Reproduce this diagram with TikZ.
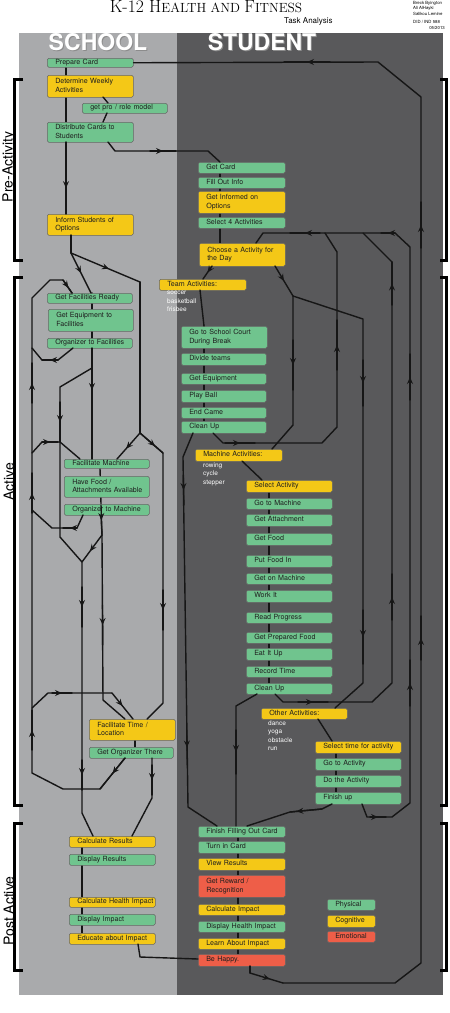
\documentclass[tikz,border=0pt]{standalone}
\usepackage{fontspec}
\setsansfont{TeX Gyre Heros}
\usetikzlibrary{arrows.meta,decorations.markings}
\definecolor{lgray}{HTML}{A9AAAC}
\definecolor{dgray}{HTML}{59595B}
\definecolor{grn}{HTML}{70C48E}
\definecolor{yel}{HTML}{F4C817}
\definecolor{rd}{HTML}{EE5E48}
\definecolor{lnc}{HTML}{161616}
\newcommand\bxn[7]{%
  \pgfmathsetmacro\bxtw{#5-16}%
  \node[bx, fill=#2, text width=\bxtw pt, minimum height=#6pt] (#1) at (#3,#4) {\begin{tabular}{@{}l@{}}#7\end{tabular}};}
\tikzset{
  bx/.style={draw=black!60, line width=0.5pt, rounded corners=1.5pt,
    font=\sffamily\fontsize{7.1}{8.3}\selectfont, text=black!88, align=left,
    inner xsep=8pt, inner ysep=0pt, anchor=north west},
  conn/.style={draw=lnc, line width=1.4pt, line join=round, line cap=round},
  mar/.style={postaction={decorate}, decoration={markings, mark=at position #1 with {\arrow{Stealth[length=7pt,width=6pt,inset=2.5pt]}}}},
  mar/.default=0.5,
  wl/.style={font=\sffamily\fontsize{6.5}{8.5}\selectfont, text=white, align=left, anchor=north west, inner sep=0pt},
  hdr/.style={font=\sffamily\bfseries\fontsize{23}{23}\selectfont, inner sep=0pt},
  brk/.style={draw=black, line width=3pt},
  side/.style={font=\sffamily\fontsize{14}{14}\selectfont, rotate=90, inner sep=0pt},
  cred/.style={font=\sffamily\fontsize{4.3}{5}\selectfont, inner sep=0pt, anchor=base west},
}
\begin{document}
\begin{tikzpicture}[x=1pt,y=-1pt]
\useasboundingbox (0,0) rectangle (450,1013);
\fill[white] (0,0) rectangle (450,1013);
% panels
\fill[lgray] (19,33) rectangle (177,995);
\fill[dgray] (177,33) rectangle (443,995);
% title and credits
\node[anchor=base, inner sep=0pt] (title) at (206,12.7) {\fontsize{17.6}{18}\selectfont K-12 H\fontsize{13.3}{14}\selectfont EALTH AND \fontsize{17.6}{18}\selectfont F\fontsize{13.3}{14}\selectfont ITNESS};
\node[anchor=base west, inner sep=0pt, font=\sffamily\fontsize{8}{8}\selectfont] (task) at (284,23) {Task Analysis};
\node[cred] (c1) at (413,4.5) {Breck Byington};
\node[cred] (c2) at (413,9.5) {Ali AlHayki};
\node[cred] (c3) at (413,15) {Salikou Lemine};
\node[cred] (c4) at (413,23.5) {DID / IND 588};
\node[cred, anchor=base east] (c5) at (445,29) {05/2013};
% headers
\node[hdr, text=black!45] at (99,43) {SCHOOL};
\node[hdr, text=white] (hs) at (98,42) {SCHOOL};
\node[hdr, text=black!45] at (263,43) {STUDENT};
\node[hdr, text=white] (hst) at (262,42) {STUDENT};
% brackets
\draw[brk] (23,79)--(14,79)--(14,260)--(23,260);
\draw[brk] (23,277)--(14,277)--(14,805)--(23,805);
\draw[brk] (23,823)--(14,823)--(14,970)--(23,970);
\draw[brk] (440,79)--(446.5,79)--(446.5,260)--(440,260);
\draw[brk] (440,277)--(446.5,277)--(446.5,805)--(440,805);
\draw[brk] (440,823)--(446.5,823)--(446.5,970)--(440,970);
\node[side] (lpre) at (9,167) {Pre-Activity};
\node[side] (lact) at (9,482) {Active};
\node[side] (lpost) at (9,911) {Post Active};
% chain lines behind boxes
\draw[conn] (66,67)--(66,122);
\draw[conn] (220,173)--(220,243);
\draw[conn] (204,326)--(204,421);
\draw[conn] (269,492)--(269,683);
\draw[conn] (336,753)--(336,792);
\draw[conn] (238,837)--(238,954);
\draw[conn] (92,293)--(92,348);
\draw[conn] (100,468)--(101,504);
\draw[conn] (135,740)--(135,747);
\draw[conn] (82,847)--(82,933);
% school boxes
\bxn{pc}{grn}{47}{58}{86}{9}{Prepare Card}
\bxn{dwa}{yel}{47}{75}{86}{22}{Determine Weekly\\Activities}
\bxn{gpr}{grn}{82}{103}{85}{10}{get pro / role model}
\bxn{dcs}{grn}{47}{122}{86}{20}{Distribute Cards to\\Students}
\bxn{iso}{yel}{47}{214}{86}{21}{Inform Students of\\Options}
\bxn{gfr}{grn}{47}{293}{85}{10}{Get Facilities Ready}
\bxn{gef}{grn}{48}{309}{85}{22}{Get Equipment to\\Facilities}
\bxn{otf}{grn}{47}{338}{85}{10}{Organizer to Facilities}
\bxn{fm}{grn}{64}{459}{85}{9}{Facilitate Machine}
\bxn{hfa}{grn}{64}{476}{85}{21}{Have Food /\\Attachments Available}
\bxn{otm}{grn}{64}{504}{85}{11}{Organizer to Machine}
\bxn{ftl}{yel}{89}{719}{86}{21}{Facilitate Time /\\Location}
\bxn{got}{grn}{89}{747}{84}{11}{Get Organizer There}
\bxn{cr}{yel}{69}{836}{86}{11}{Calculate Results}
\bxn{dr}{grn}{69}{854}{86}{11}{Display Results}
\bxn{chi}{yel}{69}{897}{86}{10}{Calculate Health Impact}
\bxn{di}{grn}{69}{914}{86}{11}{Display Impact}
\bxn{eai}{yel}{69}{933}{86}{11}{Educate about Impact}
% student boxes
\bxn{gc}{grn}{198}{162}{87}{11}{Get Card}
\bxn{foi}{grn}{198}{177}{87}{11}{Fill Out Info}
\bxn{gio}{yel}{198}{191}{87}{22}{Get Informed on\\Options}
\bxn{s4a}{grn}{198}{217}{87}{11}{Select 4 Activities}
\bxn{cad}{yel}{199}{243}{86}{23}{Choose a Activity for\\the Day}
\bxn{ta}{yel}{159}{279}{87}{11}{Team Activities:}
\bxn{gsc}{grn}{181}{326}{86}{22}{Go to School Court\\During Break}
\bxn{dt}{grn}{181}{353}{85}{12}{Divide teams}
\bxn{ge}{grn}{181}{373}{85}{11}{Get Equipment}
\bxn{pb}{grn}{181}{390}{85}{12}{Play Ball}
\bxn{ec}{grn}{181}{407}{85}{11}{End Came}
\bxn{cua}{grn}{181}{421}{85}{12}{Clean Up}
\bxn{ma}{yel}{195}{449}{87}{12}{Machine Activities:}
\bxn{sa}{yel}{246}{480}{86}{12}{Select Activity}
\bxn{gtm}{grn}{246}{498}{86}{11}{Go to Machine}
\bxn{gat}{grn}{246}{514}{86}{12}{Get Attachment}
\bxn{gf}{grn}{246}{533}{86}{12}{Get Food}
\bxn{pfi}{grn}{246}{555}{86}{12}{Put Food In}
\bxn{gom}{grn}{246}{573}{86}{11}{Get on Machine}
\bxn{wi}{grn}{246}{590}{86}{12}{Work It}
\bxn{rp}{grn}{246}{612}{86}{11}{Read Progress}
\bxn{gpf}{grn}{246}{632}{86}{11}{Get Prepared Food}
\bxn{eiu}{grn}{246}{648}{86}{12}{Eat It Up}
\bxn{rt}{grn}{246}{666}{86}{11}{Record Time}
\bxn{cub}{grn}{246}{683}{86}{11}{Clean Up}
\bxn{oa}{yel}{261}{708}{86}{11}{Other Activities:}
\bxn{sta}{yel}{315}{741}{86}{12}{Select time for activity}
\bxn{gta}{grn}{315}{758}{86}{12}{Go to Activity}
\bxn{dta}{grn}{315}{775}{86}{12}{Do the Activity}
\bxn{fu}{grn}{315}{792}{86}{12}{Finish up}
\bxn{ffc}{grn}{198}{826}{87}{11}{Finish Filling Out Card}
\bxn{tic}{grn}{198}{841}{87}{12}{Turn in Card}
\bxn{vr}{yel}{198}{858}{87}{12}{View Results}
\bxn{grr}{rd}{198}{875}{87}{22}{Get Reward /\\Recognition}
\bxn{ci}{yel}{198}{904}{87}{11}{Calculate Impact}
\bxn{dhi}{grn}{198}{921}{87}{11}{Display Health Impact}
\bxn{lai}{yel}{198}{938}{87}{11}{Learn About Impact}
\bxn{bh}{rd}{198}{954}{87}{12}{Be Happy.}
% legend
\bxn{lp}{grn}{327}{899}{48}{11}{Physical}
\bxn{lc}{yel}{327}{915}{48}{12}{Cognitive}
\bxn{le}{rd}{327}{931}{48}{11}{Emotional}
% white lists
\node[wl] (tl) at (167,291) {soccer\\basketball\\frisbee};
\node[wl] (ml) at (203,462.5) {rowing\\cycle\\stepper};
\node[wl] (ol) at (268,720.5) {dance\\yoga\\obstacle\\run};
% ---- connectors: school top
\draw[conn] (103,97)--(108,103);
\draw[conn] (107,113)--(103,122);
\draw[conn,mar=0.64] (66,142)--(66,214);
\draw[conn] (108,142)--(115,151)--(208,151)--(220,162);
\draw[conn,mar] (150,151)--(176,151);
% student pre-activity
\draw[conn,mar] (212,266)--(203,279);
\draw[conn] (200,290)--(204,326);
\draw[conn,mar] (275,266)--(293,296);
\draw[conn] (293,296)--(293,425)--(272,449);
\draw[conn,mar] (293,340)--(293,390);
\draw[conn] (293,296)--(363,319)--(363,683)--(335,708);
\draw[conn,mar] (363,360)--(363,406);
\draw[conn,mar] (363,610)--(363,664);
\draw[conn] (242,461)--(262,480);
% team clean up
\draw[conn] (193,433)--(183,457)--(188,807)--(217,826);
\draw[conn,mar] (183.3,475)--(183.9,505);
\draw[conn,mar] (186.7,730)--(187.3,765);
\draw[conn] (213,433)--(223,443)--(322,443)--(337,427)--(337,252)--(325,233);
\draw[conn,mar] (225,443)--(255,443);
\draw[conn,mar] (337,370)--(337,320);
% machine clean up
\draw[conn] (257,694)--(236,706)--(236,826);
\draw[conn,mar] (236,730)--(236,774);
\draw[conn] (275,694)--(283,702)--(372,702)--(392,683)--(392,262)--(363,233);
\draw[conn,mar] (298,702)--(328,702);
\draw[conn,mar] (392,620)--(392,574);
\draw[conn,mar] (392,305)--(392,262);
% other activities
\draw[conn] (318,719)--(332,741);
\draw[conn] (332,804)--(322,809)--(290,812)--(247,826);
\draw[conn,mar=0.8] (322,809)--(290,812);
\draw[conn] (362,804)--(367,817)--(392,817)--(410,803)--(410,247)--(395,233)--(263,233)--(256,243);
\draw[conn,mar] (370,817)--(386,817);
\draw[conn,mar] (410,706)--(410,660);
\draw[conn,mar] (410,400)--(410,354);
\draw[conn,mar] (395,233)--(381,233);
\draw[conn,mar] (320,233)--(290,233);
% big loop
\draw[conn] (250,966)--(250,973);
\draw[conn,mar=0.6] (250,973)--(283,983);
\draw[conn] (283,983)--(395,983)--(421,963)--(421,97)--(378,62)--(pc.east);
\draw[conn,mar] (421,660)--(421,616);
\draw[conn,mar] (421,248)--(421,202);
\draw[conn,mar] (330,62)--(284,62);
% educate to be happy
\draw[conn] (138,944)--(140,957)--(198,959);
% ---- school left
\draw[conn] (71,235)--(71,253);
\draw[conn,mar] (71,253)--(91,293);
\draw[conn,mar=0.55] (71,253)--(140,282);
\draw[conn] (140,282)--(140,433);
\draw[conn,mar=0.6] (140,433)--(117,459);
\draw[conn] (140,433)--(163,453)--(163,703)--(147,719);
\draw[conn,mar=0.65] (140,433)--(163,453);
\draw[conn,mar] (163,590)--(163,630);
\draw[conn] (92,348)--(92,459);
\draw[conn,mar] (92,370)--(92,410);
\draw[conn] (92,368)--(60,387)--(60,537)--(82,562)--(82,813)--(93,836);
\draw[conn,mar] (60,402)--(60,442);
\draw[conn,mar] (82,587)--(82,627);
\draw[conn,mar] (82,760)--(82,790);
\draw[conn] (101,515)--(102,535)--(103,700)--(125,719);
\draw[conn,mar] (101,505)--(102,535);
\draw[conn,mar] (102.5,605)--(102.7,645);
\draw[conn,mar=0.6] (102,535)--(82,562);
\draw[conn] (32,708)--(48,693)--(112,693);
\draw[conn,mar] (52,693)--(72,693);
\draw[conn,mar] (112,693)--(133,719);
\draw[conn] (152,758)--(152,798)--(132,836);
\draw[conn,mar] (152,765)--(152,795);
\draw[conn] (125,758)--(100,789)--(63,789)--(32,773)--(32,298)--(50,280)--(63,280)--(72,293);
\draw[conn,mar] (125,758)--(100,789);
\draw[conn,mar] (32,750)--(32,710);
\draw[conn,mar] (32,513)--(32,473);
\draw[conn,mar] (32,403)--(32,363);
\draw[conn,mar=0.6] (63,280)--(72,293);
\draw[conn] (73,348)--(58,360)--(42,360)--(32,348);
\draw[conn,mar] (58,360)--(42,360);
\draw[conn] (32,453)--(42,442)--(60,442)--(80,459);
\draw[conn,mar] (42,442)--(58,442);
\draw[conn] (83,515)--(77,528)--(52,528)--(32,510);
\draw[conn,mar] (77,528)--(63,528);
\end{tikzpicture}
\end{document}
